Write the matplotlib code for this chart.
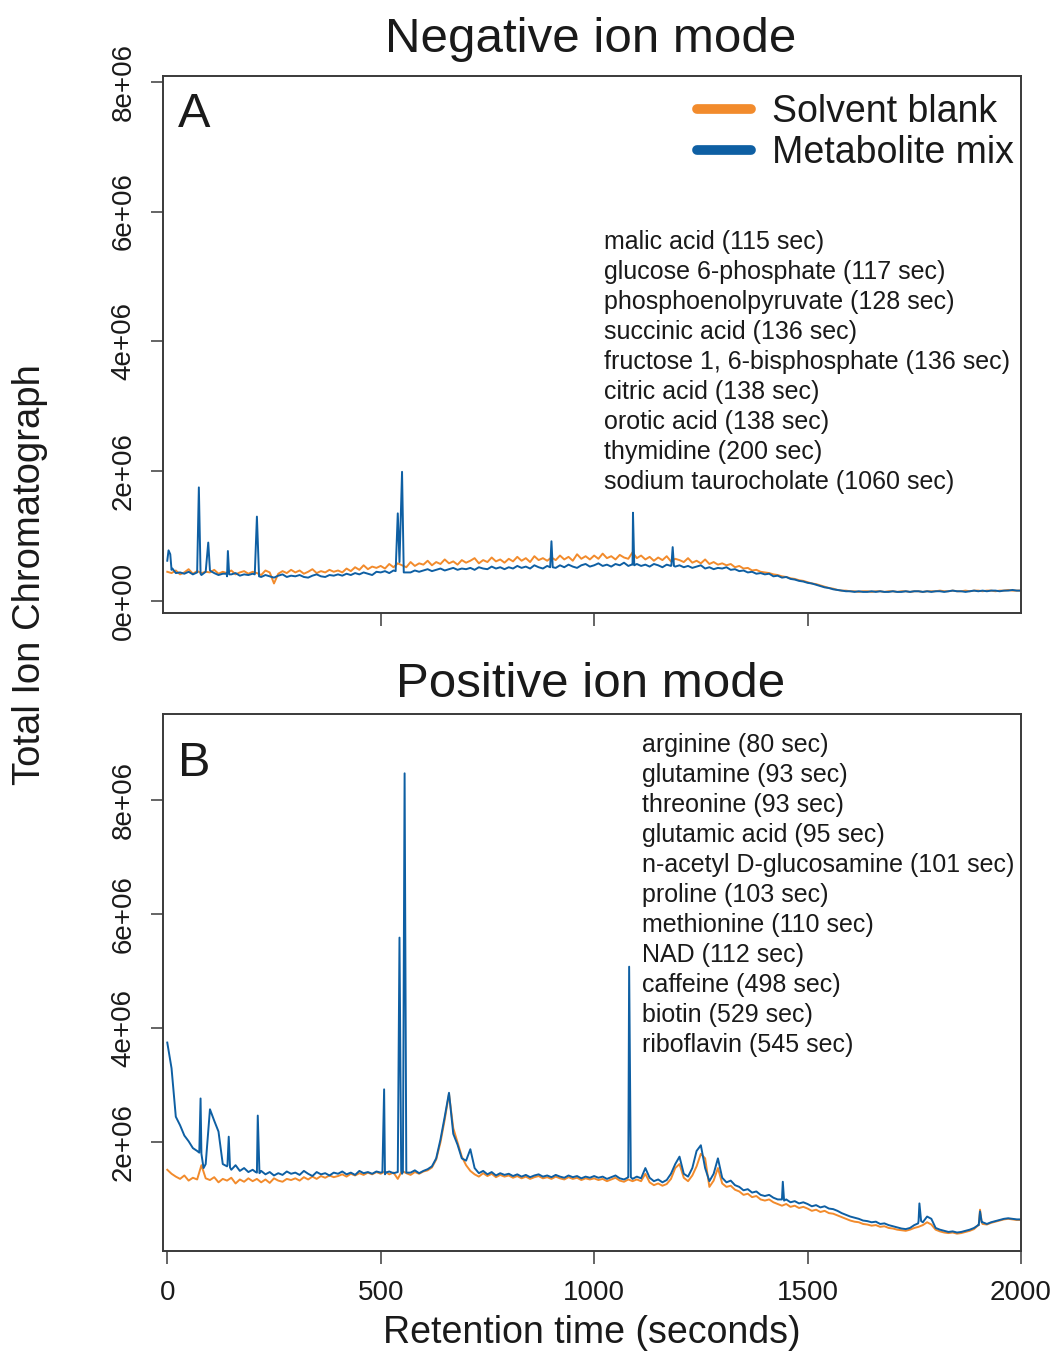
import numpy as np
import matplotlib
matplotlib.use("Agg")
from matplotlib import pyplot as plt

plt.rcParams['font.family'] = ['Liberation Sans', 'DejaVu Sans']

# sampling grid (seconds), values below in units of 1e6 counts
t_grid = np.arange(0, 2001, 10)

neg_blank = [
    0.45, 0.43, 0.47, 0.41, 0.44, 0.49, 0.42, 0.46, 0.43, 0.45,
    0.44, 0.48, 0.42, 0.45, 0.43, 0.47, 0.41, 0.44, 0.46, 0.42,
    0.45, 0.43, 0.40, 0.47, 0.44, 0.27, 0.42, 0.46, 0.43, 0.48,
    0.44, 0.47, 0.42, 0.45, 0.49, 0.43, 0.46, 0.44, 0.48, 0.45,
    0.47, 0.44, 0.50, 0.46, 0.52, 0.48, 0.55, 0.49, 0.53, 0.51,
    0.54, 0.50, 0.57, 0.52, 0.58, 0.55, 0.52, 0.60, 0.54, 0.58,
    0.56, 0.62, 0.55, 0.60, 0.57, 0.64, 0.58, 0.61, 0.56, 0.63,
    0.59, 0.62, 0.66, 0.58, 0.63, 0.60, 0.67, 0.61, 0.64, 0.59,
    0.65, 0.61, 0.68, 0.62, 0.66, 0.60, 0.69, 0.63, 0.66, 0.62,
    0.67, 0.63, 0.70, 0.64, 0.68, 0.62, 0.72, 0.65, 0.69, 0.64,
    0.70, 0.65, 0.73, 0.66, 0.69, 0.64, 0.71, 0.67, 0.65, 0.75,
    0.66, 0.70, 0.64, 0.68, 0.62, 0.67, 0.63, 0.69, 0.61, 0.65,
    0.63, 0.60, 0.66, 0.59, 0.62, 0.58, 0.64, 0.57, 0.60, 0.56,
    0.58, 0.55, 0.57, 0.52, 0.54, 0.50, 0.51, 0.47, 0.48, 0.45,
    0.44, 0.43, 0.41, 0.40, 0.38, 0.37, 0.35, 0.34, 0.32, 0.31,
    0.29, 0.27, 0.26, 0.24, 0.22, 0.20, 0.19, 0.17, 0.16, 0.16,
    0.15, 0.15, 0.14, 0.15, 0.15, 0.14, 0.15, 0.15, 0.14, 0.15,
    0.15, 0.14, 0.15, 0.15, 0.14, 0.15, 0.15, 0.14, 0.15, 0.15,
    0.15, 0.16, 0.15, 0.15, 0.16, 0.15, 0.15, 0.16, 0.15, 0.16,
    0.16, 0.15, 0.16, 0.16, 0.15, 0.16, 0.16, 0.17, 0.16, 0.16,
    0.16]

neg_mix = [
    0.62, 0.48, 0.43, 0.44, 0.42, 0.45, 0.41, 0.44, 0.40, 0.46,
    0.47, 0.43, 0.40, 0.42, 0.38, 0.41, 0.43, 0.39, 0.41, 0.40,
    0.42, 0.39, 0.37, 0.40, 0.38, 0.36, 0.39, 0.41, 0.37, 0.39,
    0.38, 0.40, 0.37, 0.36, 0.39, 0.41, 0.38, 0.37, 0.40, 0.39,
    0.41, 0.39, 0.42, 0.40, 0.43, 0.41, 0.44, 0.42, 0.40, 0.45,
    0.44, 0.46, 0.43, 0.47, 0.45, 0.48, 0.44, 0.44, 0.47, 0.45,
    0.47, 0.49, 0.46, 0.48, 0.50, 0.47, 0.49, 0.51, 0.48, 0.50,
    0.49, 0.51, 0.48, 0.52, 0.50, 0.49, 0.53, 0.50, 0.52, 0.49,
    0.52, 0.50, 0.54, 0.51, 0.53, 0.50, 0.55, 0.52, 0.50, 0.54,
    0.53, 0.51, 0.55, 0.52, 0.56, 0.53, 0.51, 0.55, 0.57, 0.53,
    0.55, 0.58, 0.54, 0.56, 0.53, 0.57, 0.55, 0.59, 0.54, 0.56,
    0.57, 0.54, 0.56, 0.53, 0.57, 0.55, 0.52, 0.56, 0.54, 0.53,
    0.55, 0.52, 0.54, 0.51, 0.53, 0.55, 0.50, 0.52, 0.49, 0.51,
    0.50, 0.52, 0.48, 0.49, 0.46, 0.47, 0.44, 0.45, 0.42, 0.43,
    0.41, 0.42, 0.38, 0.39, 0.36, 0.37, 0.34, 0.33, 0.31, 0.30,
    0.28, 0.27, 0.25, 0.23, 0.21, 0.20, 0.18, 0.17, 0.16, 0.15,
    0.15, 0.14, 0.15, 0.14, 0.14, 0.15, 0.14, 0.15, 0.14, 0.14,
    0.15, 0.14, 0.14, 0.15, 0.14, 0.15, 0.15, 0.14, 0.15, 0.14,
    0.15, 0.15, 0.14, 0.15, 0.16, 0.15, 0.15, 0.14, 0.15, 0.16,
    0.15, 0.16, 0.15, 0.16, 0.16, 0.15, 0.16, 0.16, 0.17, 0.16,
    0.16]

# sharp peaks of the metabolite mix (negative mode): time, value
neg_mix_peak_t = [3, 7, 12, 70, 74, 78, 90, 96, 102, 139, 142, 145,
                  205, 210, 215, 535, 540, 544, 550, 554, 897, 900, 903,
                  1088, 1091, 1094, 1181, 1184, 1187]
neg_mix_peak_v = [0.78, 0.72, 0.50, 0.44, 1.75, 0.42, 0.45, 0.90, 0.46,
                  0.42, 0.77, 0.41, 0.41, 1.30, 0.38, 0.46, 1.35, 0.60,
                  1.99, 0.44, 0.52, 0.92, 0.52, 0.56, 1.36, 0.55, 0.55,
                  0.83, 0.54]

pos_blank = [
    1.52, 1.45, 1.40, 1.36, 1.42, 1.33, 1.38, 1.35, 1.60, 1.37,
    1.34, 1.39, 1.30, 1.36, 1.33, 1.38, 1.28, 1.35, 1.31, 1.37,
    1.32, 1.36, 1.30, 1.35, 1.29, 1.37, 1.33, 1.31, 1.36, 1.34,
    1.37, 1.33, 1.39, 1.35, 1.40, 1.36, 1.41, 1.38, 1.42, 1.39,
    1.41, 1.44, 1.40, 1.45, 1.42, 1.46, 1.43, 1.47, 1.44, 1.48,
    1.45, 1.49, 1.44, 1.47, 1.36, 1.50, 1.46, 1.43, 1.48, 1.45,
    1.49, 1.51, 1.56, 1.70, 2.00, 2.40, 2.85, 2.25, 2.00, 1.75,
    1.60, 1.50, 1.44, 1.40, 1.46, 1.41, 1.45, 1.39, 1.43, 1.40,
    1.42, 1.38, 1.41, 1.37, 1.40, 1.36, 1.39, 1.41, 1.37, 1.39,
    1.36, 1.40, 1.37, 1.35, 1.39, 1.36, 1.38, 1.34, 1.37, 1.35,
    1.37, 1.34, 1.36, 1.32, 1.35, 1.38, 1.33, 1.31, 1.35, 1.32,
    1.35, 1.32, 1.45, 1.30, 1.25, 1.28, 1.24, 1.27, 1.36, 1.55,
    1.62, 1.38, 1.32, 1.42, 1.58, 1.80, 1.72, 1.22, 1.33, 1.55,
    1.28, 1.22, 1.24, 1.17, 1.14, 1.08, 1.10, 1.04, 1.06, 1.00,
    0.98, 1.00, 0.95, 0.92, 0.89, 0.92, 0.87, 0.89, 0.85, 0.87,
    0.84, 0.80, 0.82, 0.78, 0.80, 0.76, 0.75, 0.72, 0.69, 0.66,
    0.63, 0.61, 0.60, 0.57, 0.56, 0.54, 0.55, 0.52, 0.53, 0.50,
    0.49, 0.47, 0.46, 0.45, 0.47, 0.50, 0.52, 0.55, 0.60, 0.56,
    0.47, 0.44, 0.42, 0.41, 0.42, 0.40, 0.41, 0.43, 0.45, 0.48,
    0.55, 0.57, 0.56, 0.59, 0.61, 0.63, 0.65, 0.66, 0.65, 0.64,
    0.64]

pos_blank_peak_t = [1901, 1904, 1908]
pos_blank_peak_v = [0.55, 0.82, 0.60]

pos_mix = [
    3.75, 3.30, 2.45, 2.30, 2.12, 2.02, 1.90, 1.85, 1.80, 1.62,
    2.58, 2.38, 2.19, 1.62, 1.58, 1.52, 1.60, 1.50, 1.55, 1.48,
    1.52, 1.47, 1.50, 1.44, 1.48, 1.42, 1.46, 1.43, 1.49, 1.45,
    1.47, 1.43, 1.50, 1.45, 1.41, 1.48, 1.44, 1.46, 1.42, 1.47,
    1.45, 1.49, 1.44, 1.47, 1.43, 1.50, 1.46, 1.48, 1.45, 1.49,
    1.47, 1.44, 1.49, 1.46, 1.50, 1.45, 1.48, 1.47, 1.51, 1.46,
    1.50, 1.53, 1.58, 1.72, 2.05, 2.45, 2.87, 2.15, 1.96, 1.72,
    1.68, 1.88, 1.55, 1.46, 1.50, 1.44, 1.48, 1.42, 1.46, 1.43,
    1.45, 1.41, 1.44, 1.40, 1.43, 1.39, 1.42, 1.44, 1.40, 1.42,
    1.39, 1.43, 1.40, 1.38, 1.42, 1.39, 1.41, 1.37, 1.40, 1.38,
    1.41, 1.38, 1.40, 1.36, 1.39, 1.42, 1.37, 1.35, 1.39, 1.36,
    1.40, 1.37, 1.55, 1.38, 1.32, 1.35, 1.30, 1.34, 1.45, 1.62,
    1.75, 1.45, 1.40, 1.55, 1.85, 1.95, 1.55, 1.32, 1.45, 1.72,
    1.38, 1.30, 1.33, 1.25, 1.22, 1.16, 1.18, 1.12, 1.14, 1.08,
    1.06, 1.08, 1.03, 1.00, 0.97, 1.00, 0.95, 0.97, 0.93, 0.95,
    0.92, 0.88, 0.90, 0.86, 0.88, 0.84, 0.83, 0.80, 0.76, 0.73,
    0.70, 0.68, 0.66, 0.63, 0.62, 0.60, 0.61, 0.57, 0.58, 0.55,
    0.53, 0.51, 0.49, 0.48, 0.50, 0.55, 0.62, 0.60, 0.70, 0.66,
    0.50, 0.47, 0.45, 0.43, 0.44, 0.42, 0.43, 0.45, 0.47, 0.50,
    0.55, 0.60, 0.57, 0.60, 0.62, 0.64, 0.66, 0.67, 0.66, 0.65,
    0.65]

pos_mix_peak_t = [75, 78, 82, 85, 141, 144, 147, 207, 212, 216,
                  504, 508, 512, 540, 544, 548, 552, 556, 560,
                  1078, 1082, 1086, 1440, 1442, 1445, 1759, 1762, 1766,
                  1901, 1904, 1908]
pos_mix_peak_v = [1.82, 2.77, 1.70, 1.55, 1.60, 2.10, 1.56, 1.48, 2.47, 1.46,
                  1.48, 2.93, 1.47, 1.48, 5.59, 1.50, 1.48, 8.47, 1.47,
                  1.38, 5.08, 1.39, 1.00, 1.31, 0.98, 0.58, 0.93, 0.62,
                  0.55, 0.79, 0.60]

neg_compounds = ['malic acid (115 sec)', 'glucose 6-phosphate (117 sec)',
                 'phosphoenolpyruvate (128 sec)', 'succinic acid (136 sec)',
                 'fructose 1, 6-bisphosphate (136 sec)', 'citric acid (138 sec)',
                 'orotic acid (138 sec)', 'thymidine (200 sec)',
                 'sodium taurocholate (1060 sec)']
pos_compounds = ['arginine (80 sec)', 'glutamine (93 sec)', 'threonine (93 sec)',
                 'glutamic acid (95 sec)', 'n-acetyl D-glucosamine (101 sec)',
                 'proline (103 sec)', 'methionine (110 sec)', 'NAD (112 sec)',
                 'caffeine (498 sec)', 'biotin (529 sec)', 'riboflavin (545 sec)']

ORANGE = '#F28B2C'
BLUE = '#0E5FA3'
TXT = '#1a1a1a'


def trace(vals, peak_t=(), peak_v=()):
    keep = ~np.isin(t_grid, peak_t)
    t = np.concatenate([t_grid[keep], np.asarray(peak_t, float)])
    v = np.concatenate([np.asarray(vals)[keep], np.asarray(peak_v, float)])
    o = np.argsort(t, kind='stable')
    return t[o], v[o] * 1e6


fig = plt.figure(figsize=(10.52, 13.52), dpi=100)
ax1 = fig.add_axes([163/1052, 1-613/1352, 858/1052, 537/1352])
ax2 = fig.add_axes([163/1052, 1-1251/1352, 858/1052, 537/1352])

t, v = trace(neg_blank)
l1, = ax1.plot(t, v, color=ORANGE, lw=1.4, label='Solvent blank')
t, v = trace(neg_mix, neg_mix_peak_t, neg_mix_peak_v)
l2, = ax1.plot(t, v, color=BLUE, lw=1.4, label='Metabolite mix')

t, v = trace(pos_blank, pos_blank_peak_t, pos_blank_peak_v)
ax2.plot(t, v, color=ORANGE, lw=1.4)
t, v = trace(pos_mix, pos_mix_peak_t, pos_mix_peak_v)
ax2.plot(t, v, color=BLUE, lw=1.4)

ax1.set_ylim(-0.185e6, 8.088e6)
ax2.set_ylim(0.096e6, 9.51e6)
for ax in (ax1, ax2):
    ax.set_xlim(-10, 2000)
    for s in ax.spines.values():
        s.set_color('#3a3a3a')
        s.set_linewidth(1.4)
    ax.tick_params(direction='out', length=9, width=1.1, color='#3a3a3a',
                   labelsize=20, labelcolor=TXT)
    ax.tick_params(axis='y', pad=10)
    ax.tick_params(axis='x', pad=12)

ax1.set_yticks([0, 2e6, 4e6, 6e6, 8e6])
ax1.set_yticklabels(['0e+00', '2e+06', '4e+06', '6e+06', '8e+06'],
                    rotation=90, va='center')
ax1.set_xticks([500, 1000, 1500])
ax1.set_xticklabels([])

ax2.set_yticks([2e6, 4e6, 6e6, 8e6])
ax2.set_yticklabels(['2e+06', '4e+06', '6e+06', '8e+06'], rotation=90, va='center')
ax2.set_xticks([0, 500, 1000, 1500, 2000])
ax2.set_xticklabels(['0', '500', '1000', '1500', '2000'])

ax1.text(0.017, 0.97, 'A', transform=ax1.transAxes, fontsize=35, va='top', color=TXT)
ax2.text(0.017, 0.95, 'B', transform=ax2.transAxes, fontsize=35, va='top', color=TXT)

ax1.text(0.514, 0.713, '\n'.join(neg_compounds), transform=ax1.transAxes,
         fontsize=18, va='top', ha='left', linespacing=1.315, color=TXT)
ax2.text(0.558, 0.965, '\n'.join(pos_compounds), transform=ax2.transAxes,
         fontsize=18, va='top', ha='left', linespacing=1.315, color=TXT)

leg = ax1.legend(handles=[l1, l2], loc='upper right', bbox_to_anchor=(1.0, 0.981),
                 frameon=False, fontsize=27, handlelength=1.45, handletextpad=0.55,
                 labelspacing=0.15, borderaxespad=0.1, borderpad=0.1)
for h in leg.legend_handles:
    h.set_linewidth(7)
    h.set_solid_capstyle('round')
for tx in leg.get_texts():
    tx.set_color(TXT)

fig.text(591/1052, 1-52/1352, 'Negative ion mode', ha='center', va='baseline',
         fontsize=35.5, color=TXT)
fig.text(591/1052, 1-697/1352, 'Positive ion mode', ha='center', va='baseline',
         fontsize=35.5, color=TXT)
fig.text(30/1052, 1-575/1352, 'Total Ion Chromatograph', rotation=90,
         ha='center', va='center', fontsize=27.5, color=TXT)
fig.text(592/1052, 1-1333/1352, 'Retention time (seconds)', ha='center',
         va='center', fontsize=27, color=TXT)

fig.savefig('out.png', dpi=100)
